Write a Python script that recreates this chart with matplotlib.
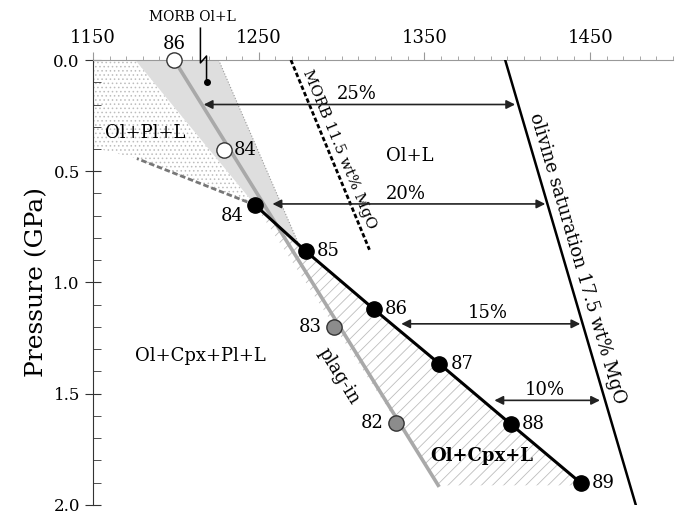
import numpy as np
import matplotlib
matplotlib.use("Agg")
import matplotlib.pyplot as plt
from matplotlib.patches import Polygon
from matplotlib.ticker import MultipleLocator

plt.rcParams["font.family"] = "DejaVu Serif"
plt.rcParams["hatch.linewidth"] = 0.6

# fractionation path (black), with Mg# of the liquid
frac_T = [1247.8, 1278.5, 1319.3, 1358.9, 1402.1, 1444.4]
frac_P = [0.652, 0.860, 1.119, 1.365, 1.637, 1.902]
frac_mg = ["84", "85", "86", "87", "88", "89"]

# plagioclase-in boundary
plag_T = [1199.0, 1358.3]
plag_P = [0.0, 1.912]

# Ol+Pl+L liquids (open) and Cpx+Pl liquids (grey)
open_T = [1199.1, 1229.0]
open_P = [0.0, 0.405]
open_mg = ["86", "84"]
grey_T = [1295.3, 1333.1]
grey_P = [1.198, 1.634]
grey_mg = ["83", "82"]

# liquidus lines
oliv_T = [1398.7, 1477.5]
oliv_P = [0.0, 2.0]
morb_T = [1269.4, 1316.8]
morb_P = [0.0, 0.853]

# crystallisation extent arrows
arrow_P = [0.200, 0.647, 1.186, 1.530]
arrow_T0 = [1216.8, 1258.3, 1336.0, 1392.2]
arrow_T1 = [1404.7, 1422.9, 1444.0, 1455.9]
arrow_lab = ["25%", "20%", "15%", "10%"]

# field outlines
band_T = [1175.5, 1225.8, 1276.0, 1247.8]
band_P = [0.0, 0.0, 0.860, 0.652]
olpl_T = [1150.0, 1175.5, 1247.8, 1176.5, 1150.0]
olpl_P = [0.0, 0.0, 0.652, 0.443, 0.393]
cpx_T = [1247.8, 1278.5, 1319.3, 1358.9, 1402.1, 1444.4, 1446.0, 1358.3]
cpx_P = [0.652, 0.860, 1.119, 1.365, 1.637, 1.902, 1.912, 1.912]

fig = plt.figure(figsize=(6.8, 5.16), dpi=100)
ax = fig.add_axes([0.1368, 0.0215, 0.853, 0.8622])
ax.set_xlim(1150, 1500)
ax.set_ylim(2.0, 0.0)


def angle(t, p):
    a = ax.transData.transform((t[0], p[0]))
    b = ax.transData.transform((t[1], p[1]))
    return np.degrees(np.arctan2(b[1] - a[1], b[0] - a[0]))


# fields
ax.add_patch(Polygon(np.column_stack([olpl_T, olpl_P]), facecolor="none",
                     edgecolor="#bdbdbd", lw=0, hatch="....", zorder=1))
ax.add_patch(Polygon(np.column_stack([band_T, band_P]), facecolor="#dedede",
                     edgecolor="none", zorder=1))
ax.plot([band_T[1], band_T[2]], [band_P[1], band_P[2]], color="#999999",
        lw=0.8, ls=":", zorder=2)
ax.add_patch(Polygon(np.column_stack([cpx_T, cpx_P]), facecolor="none",
                     edgecolor="#bdbdbd", lw=0, hatch="///", zorder=1))
ax.plot([olpl_T[2], olpl_T[3]], [olpl_P[2], olpl_P[3]], color="#777777",
        lw=2, ls=(0, (2, 1)), zorder=2)

# boundaries
ax.plot(plag_T, plag_P, color="#a9a9a9", lw=2.6, zorder=3)
ax.plot(oliv_T, oliv_P, color="black", lw=1.8, zorder=3)
ax.plot(morb_T, morb_P, color="black", lw=2.0, ls=(0, (1.6, 0.9)), zorder=3)
ax.plot(frac_T, frac_P, color="black", lw=2.2, zorder=4)

# liquids
ax.plot(frac_T, frac_P, "o", color="black", ms=11, zorder=5)
ax.plot(open_T, open_P, "o", mfc="white", mec="#333333", mew=1, ms=11,
        zorder=5, clip_on=False)
ax.plot(grey_T, grey_P, "o", mfc="#8c8c8c", mec="#333333", mew=1, ms=11,
        zorder=5)

fs = 13
for t, p, s in zip(frac_T, frac_P, frac_mg):
    if s == "84":
        ax.annotate(s, (t, p), xytext=(-8, -8), textcoords="offset points",
                    ha="right", va="center", fontsize=fs)
    else:
        ax.annotate(s, (t, p), xytext=(8, 0), textcoords="offset points",
                    ha="left", va="center", fontsize=fs)
ax.annotate(open_mg[0], (open_T[0], open_P[0]), xytext=(0, 5),
            textcoords="offset points", ha="center", va="bottom", fontsize=fs)
ax.annotate(open_mg[1], (open_T[1], open_P[1]), xytext=(7, 0),
            textcoords="offset points", ha="left", va="center", fontsize=fs)
for t, p, s in zip(grey_T, grey_P, grey_mg):
    ax.annotate(s, (t, p), xytext=(-9, 0), textcoords="offset points",
                ha="right", va="center", fontsize=fs)

# arrows
for p, t0, t1, s in zip(arrow_P, arrow_T0, arrow_T1, arrow_lab):
    ax.annotate("", xy=(t0, p), xytext=(t1, p),
                arrowprops=dict(arrowstyle="<|-|>", color="#222222", lw=1.2,
                                shrinkA=0, shrinkB=0, mutation_scale=13),
                zorder=4)
    ax.annotate(s, ((t0 + t1) / 2, p), xytext=(-2, 1), textcoords="offset points",
                ha="center", va="bottom", fontsize=fs)

# MORB 1 atm liquidus with leader
lead_T = [1214.8, 1214.8, 1218.5, 1218.5]
lead_P = [-0.143, 0.013, -0.018, 0.098]
ax.plot(lead_T, lead_P, color="black", lw=1.1, clip_on=False, zorder=6)
ax.plot(lead_T[-1], lead_P[-1], "o", color="black", ms=4, zorder=6)
ax.text(1210, -0.16, "MORB Ol+L", ha="center", va="bottom", fontsize=10,
        clip_on=False)

# field labels
ax.text(1181.5, 0.33, "Ol+Pl+L", ha="center", va="center", fontsize=fs)
ax.text(1341, 0.43, "Ol+L", ha="center", va="center", fontsize=fs)
ax.text(1215, 1.33, "Ol+Cpx+Pl+L", ha="center", va="center", fontsize=fs)
ax.text(1384.5, 1.78, "Ol+Cpx+L", ha="center", va="center", fontsize=fs,
        fontweight="bold")
ax.text(1298, 1.42, "plag-in", ha="center", va="center", fontsize=fs,
        rotation=angle(plag_T, plag_P), rotation_mode="anchor")
ax.text(1442, 0.89, "olivine saturation 17.5 wt% MgO", ha="center",
        va="center", fontsize=fs, rotation=angle(oliv_T, oliv_P),
        rotation_mode="anchor")
ax.text(1298.5, 0.40, "MORB 11.5 wt% MgO", ha="center", va="center",
        fontsize=11, rotation=angle(morb_T, morb_P), rotation_mode="anchor")

# axes styling
ax.xaxis.tick_top()
ax.spines["right"].set_visible(False)
ax.spines["bottom"].set_visible(False)
ax.spines["top"].set_color("#999999")
ax.spines["left"].set_color("#333333")
ax.xaxis.set_major_locator(MultipleLocator(100))
ax.xaxis.set_minor_locator(MultipleLocator(10))
ax.yaxis.set_major_locator(MultipleLocator(0.5))
ax.yaxis.set_minor_locator(MultipleLocator(0.1))
ax.yaxis.set_major_formatter(lambda v, pos: f"{v:.1f}")
ax.set_xticks([1150, 1250, 1350, 1450])
ax.tick_params(axis="x", which="both", colors="#999999", labelcolor="black",
               labelsize=13, direction="out")
ax.tick_params(axis="x", which="major", length=6)
ax.tick_params(axis="x", which="minor", length=3)
ax.tick_params(axis="y", which="major", direction="inout", length=12,
               color="#333333", labelsize=12)
ax.tick_params(axis="y", which="minor", direction="in", length=6,
               color="#333333")
ax.set_ylabel("Pressure (GPa)", fontsize=18)

fig.savefig("out.png", dpi=100)
